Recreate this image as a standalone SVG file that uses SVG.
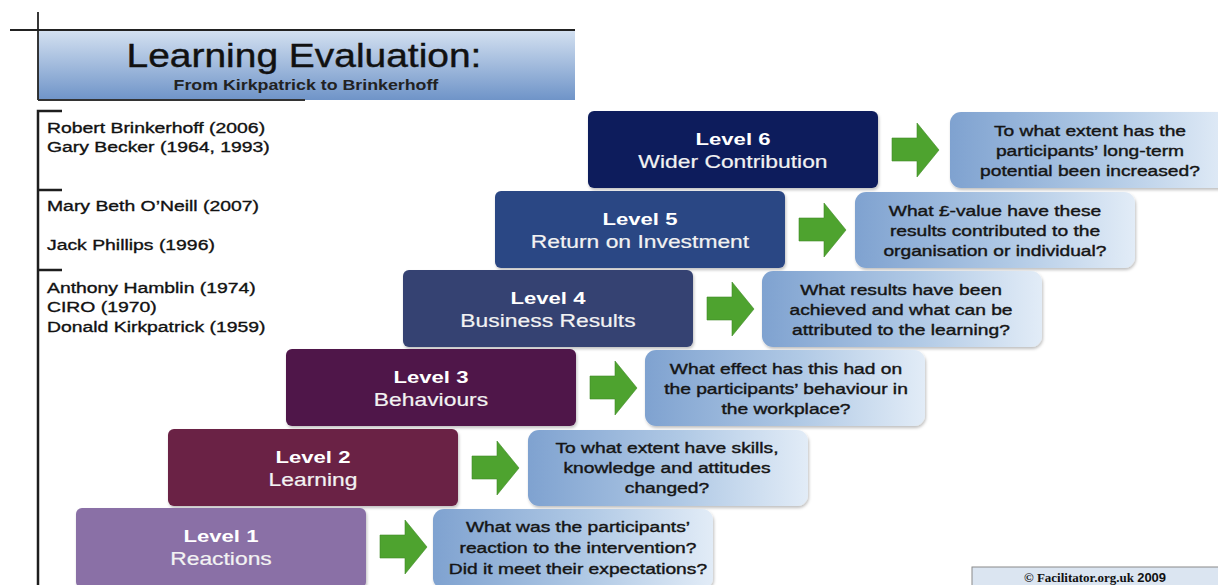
<svg xmlns="http://www.w3.org/2000/svg" width="1218" height="585" viewBox="0 0 1218 585">
<style>
text{font-family:"Liberation Sans",Arial,sans-serif;}
.title{font-size:33px;fill:#111;stroke:#111;stroke-width:0.4;text-anchor:middle;transform-box:fill-box;transform-origin:center;transform:scaleX(1.18);}
.sub{font-size:14px;font-weight:bold;fill:#222;text-anchor:middle;transform-box:fill-box;transform-origin:center;transform:scaleX(1.27);}
.auth{font-size:15.5px;fill:#111;stroke:#111;stroke-width:0.35;transform-box:fill-box;transform-origin:0 50%;transform:scaleX(1.25);}
.lvl{font-size:17px;font-weight:bold;fill:#fff;text-anchor:middle;transform-box:fill-box;transform-origin:center;transform:scaleX(1.3);}
.lvn{font-size:18px;fill:#f2f2f2;stroke:#f2f2f2;stroke-width:0.2;text-anchor:middle;transform-box:fill-box;transform-origin:center;transform:scaleX(1.27);}
.q{font-size:15.5px;fill:#151515;stroke:#151515;stroke-width:0.4;text-anchor:middle;transform-box:fill-box;transform-origin:center;transform:scaleX(1.24);}
.box{filter:url(#sh);}
.qb{fill:url(#qg);filter:url(#sh);}
.arrow{fill:#4ea32f;stroke:#3f8a26;stroke-width:0.6;}
.rule{stroke:#1e1e1e;stroke-width:2.5;fill:none;}
</style>
<defs>
<linearGradient id="tg" x1="0" y1="0" x2="0" y2="1">
<stop offset="0" stop-color="#d4e1f1"/>
<stop offset="1" stop-color="#6f94c8"/>
</linearGradient>
<linearGradient id="qg" x1="0" y1="0" x2="1" y2="0">
<stop offset="0" stop-color="#7fa2d0"/>
<stop offset="0.55" stop-color="#b0c9e5"/>
<stop offset="1" stop-color="#e2ecf7"/>
</linearGradient>
<filter id="sh" x="-5%" y="-10%" width="112%" height="125%">
<feDropShadow dx="1" dy="2" stdDeviation="1.5" flood-color="#000" flood-opacity="0.25"/>
</filter>
</defs>
<rect width="1218" height="585" fill="#fff"/>

<g id="title">
<rect x="38" y="30" width="537" height="70" fill="url(#tg)"/>
<line x1="10" y1="30" x2="575" y2="30" stroke="#222" stroke-width="1.8"/>
<line x1="38" y1="12" x2="38" y2="100" stroke="#222" stroke-width="1.8"/>
<line x1="38" y1="100" x2="305" y2="100" stroke="#333" stroke-width="2"/>
<text class="title" x="304" y="67">Learning Evaluation:</text>
<text class="sub" x="306" y="90">From Kirkpatrick to Brinkerhoff</text>
</g>

<g id="authors">
<path class="rule" d="M62,111 H38 V585 M38,190 H62 M38,270 H62"/>
<text class="auth" x="47" y="133">Robert Brinkerhoff (2006)</text>
<text class="auth" x="47" y="152">Gary Becker (1964, 1993)</text>
<text class="auth" x="47" y="211">Mary Beth O’Neill (2007)</text>
<text class="auth" x="47" y="250">Jack Phillips (1996)</text>
<text class="auth" x="47" y="293">Anthony Hamblin (1974)</text>
<text class="auth" x="47" y="312">CIRO (1970)</text>
<text class="auth" x="47" y="332">Donald Kirkpatrick (1959)</text>
</g>

<g id="level6">
<rect class="box" x="588" y="111" width="290" height="77" rx="6" fill="#0f1f5c"/>
<text class="lvl" x="733" y="145">Level 6</text>
<text class="lvn" x="733" y="168">Wider Contribution</text>
</g>
<g id="level5">
<rect class="box" x="495" y="191" width="290" height="77" rx="6" fill="#2c4684"/>
<text class="lvl" x="640" y="225">Level 5</text>
<text class="lvn" x="640" y="248">Return on Investment</text>
</g>
<g id="level4">
<rect class="box" x="403" y="270" width="290" height="77" rx="6" fill="#354272"/>
<text class="lvl" x="548" y="304">Level 4</text>
<text class="lvn" x="548" y="327">Business Results</text>
</g>
<g id="level3">
<rect class="box" x="286" y="349" width="290" height="77" rx="6" fill="#4f164a"/>
<text class="lvl" x="431" y="383">Level 3</text>
<text class="lvn" x="431" y="406">Behaviours</text>
</g>
<g id="level2">
<rect class="box" x="168" y="429" width="290" height="77" rx="6" fill="#6b2044"/>
<text class="lvl" x="313" y="463">Level 2</text>
<text class="lvn" x="313" y="486">Learning</text>
</g>
<g id="level1">
<rect class="box" x="76" y="508" width="290" height="80" rx="6" fill="#8a6fa6"/>
<text class="lvl" x="221" y="542">Level 1</text>
<text class="lvn" x="221" y="565">Reactions</text>
</g>

<g id="q6">
<rect class="qb" x="950" y="112" width="280" height="76" rx="11"/>
<text class="q" x="1090" y="136">To what extent has the</text>
<text class="q" x="1090" y="156">participants’ long-term</text>
<text class="q" x="1090" y="176">potential been increased?</text>
</g>
<g id="q5">
<rect class="qb" x="855" y="192" width="280" height="76" rx="11"/>
<text class="q" x="995" y="216">What £-value have these</text>
<text class="q" x="995" y="236">results contributed to the</text>
<text class="q" x="995" y="256">organisation or individual?</text>
</g>
<g id="q4">
<rect class="qb" x="762" y="271" width="280" height="76" rx="11"/>
<text class="q" x="901" y="295">What results have been</text>
<text class="q" x="901" y="315">achieved and what can be</text>
<text class="q" x="901" y="335">attributed to the learning?</text>
</g>
<g id="q3">
<rect class="qb" x="645" y="350" width="280" height="76" rx="11"/>
<text class="q" x="786" y="374">What effect has this had on</text>
<text class="q" x="786" y="394">the participants’ behaviour in</text>
<text class="q" x="786" y="414">the workplace?</text>
</g>
<g id="q2">
<rect class="qb" x="528" y="430" width="280" height="76" rx="11"/>
<text class="q" x="667" y="453">To what extent have skills,</text>
<text class="q" x="667" y="473">knowledge and attitudes</text>
<text class="q" x="667" y="493">changed?</text>
</g>
<g id="q1">
<rect class="qb" x="433" y="509" width="280" height="80" rx="11"/>
<text class="q" x="578" y="532">What was the participants’</text>
<text class="q" x="578" y="553">reaction to the intervention?</text>
<text class="q" x="578" y="574">Did it meet their expectations?</text>
</g>

<g id="connectors">
<path class="arrow" d="M892,138 H917 V123 L939,150 L917,177 V161 H892 Z"/>
<path class="arrow" d="M799,218 H824 V203 L846,230 L824,257 V241 H799 Z"/>
<path class="arrow" d="M707,297 H732 V282 L754,309 L732,336 V320 H707 Z"/>
<path class="arrow" d="M590,376 H615 V361 L637,388 L615,415 V399 H590 Z"/>
<path class="arrow" d="M472,456 H497 V441 L519,468 L497,495 V479 H472 Z"/>
<path class="arrow" d="M380,535 H405 V520 L427,547 L405,574 V558 H380 Z"/>
</g>

<g id="copyright">
<rect x="972" y="567" width="250" height="22" fill="#dbe5f1" stroke="#8a8a8a" stroke-width="1"/>
<text x="1095" y="582" text-anchor="middle" style="font-family:'Liberation Serif','Times New Roman',serif;font-size:13px;font-weight:bold;fill:#111;">© Facilitator.org.uk <tspan style="font-family:'Liberation Sans',Arial,sans-serif;">2009</tspan></text>
</g>
</svg>
